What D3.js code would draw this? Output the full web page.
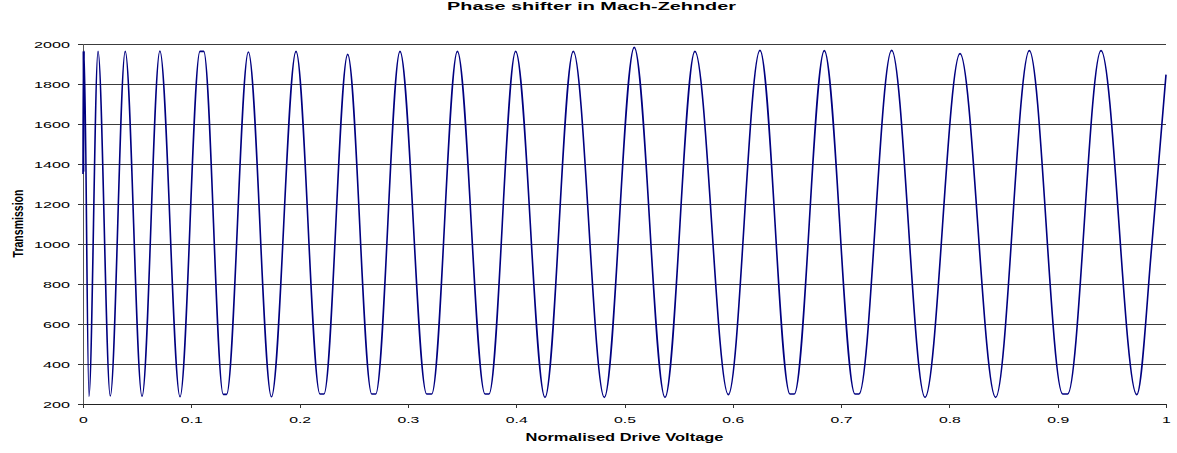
<!DOCTYPE html>
<html><head><meta charset="utf-8">
<script src="https://cdn.jsdelivr.net/npm/d3@7"></script>
<style>
html,body{margin:0;padding:0;background:#fff;}
svg{display:block;}
text{font-family:"Liberation Sans",Arial,sans-serif;fill:#000;}
</style>
</head><body>
<svg id="chart" width="1177" height="453"></svg>
<script>
const chartTitle = "Phase shifter in Mach-Zehnder";
const xTitle = "Normalised Drive Voltage";
const yTitle = "Transmission";

const voltage = [0, 0.0003, 0.0006, 0.0010, 0.0055, 0.0139, 0.0252, 0.0390, 0.0545, 0.0710,
  0.0896, 0.1080, 0.1115, 0.1295, 0.1326, 0.1527, 0.1740, 0.1967, 0.2188, 0.2225,
  0.2444, 0.2666, 0.2703, 0.2927, 0.3173, 0.3220, 0.3457, 0.3712, 0.3749, 0.3995,
  0.4266, 0.4527, 0.4814, 0.5090, 0.5374, 0.5650, 0.5959, 0.6251, 0.6528, 0.6568,
  0.6845, 0.7128, 0.7165, 0.7467, 0.7775, 0.8098, 0.8427, 0.8738, 0.9046, 0.9092,
  0.9400, 0.9730, 0.9870, 1.0000];
const transmission = [1350, 1965, 1360, 1965, 238, 1963, 240, 1963, 238, 1965,
  236, 1963, 1963, 248, 248, 1960, 236, 1963, 250, 250,
  1948, 250, 250, 1963, 250, 250, 1963, 250, 250, 1963,
  233, 1963, 233, 1983, 233, 1963, 247, 1968, 250, 250,
  1967, 250, 250, 1968, 233, 1952, 233, 1967, 250, 250,
  1967, 247, 1000, 1847];

const xTicks = [0, 0.1, 0.2, 0.3, 0.4, 0.5, 0.6, 0.7, 0.8, 0.9, 1];
const xTickLabels = ["0", "0.1", "0.2", "0.3", "0.4", "0.5", "0.6", "0.7", "0.8", "0.9", "1"];
const yTicks = [200, 400, 600, 800, 1000, 1200, 1400, 1600, 1800, 2000];
const yTickLabels = ["200", "400", "600", "800", "1000", "1200", "1400", "1600", "1800", "2000"];

const svg = d3.select("#chart");
svg.append("rect").attr("width", 1177).attr("height", 453).attr("fill", "#fff");

const x = d3.scaleLinear().domain([0, 1]).range([83, 1166]);
const y = d3.scaleLinear().domain([200, 2000]).range([404, 44]);

// gridlines
svg.append("g").selectAll("line").data(yTicks.filter(d => d !== 200)).join("line")
  .attr("x1", x(0)).attr("x2", x(1))
  .attr("y1", d => y(d)).attr("y2", d => y(d))
  .attr("stroke", "#3c3c3c").attr("stroke-width", 1).attr("shape-rendering", "crispEdges");

function stretch(sel, k) {
  sel.each(function () {
    const t = d3.select(this);
    const xx = +t.attr("x") || 0;
    t.attr("x", 0).attr("transform", `translate(${xx},0) scale(${k},1)`);
  });
}

// y axis
const yAxis = svg.append("g").attr("transform", `translate(${x(0)},0)`)
  .call(d3.axisLeft(y).tickValues(yTicks).tickFormat((d, i) => yTickLabels[i]).tickSize(5).tickPadding(8));
yAxis.select(".domain").attr("stroke", "#555").attr("shape-rendering", "crispEdges");
yAxis.selectAll(".tick line").attr("stroke", "#333").attr("shape-rendering", "crispEdges");
yAxis.selectAll("text").attr("font-size", 9.4).attr("font-family", '"Liberation Sans",Arial,sans-serif').attr("fill", "#000");
stretch(yAxis.selectAll("text"), 1.72);

// x axis
const xAxis = svg.append("g").attr("transform", `translate(0,${y(200)})`)
  .call(d3.axisBottom(x).tickValues(xTicks).tickFormat((d, i) => xTickLabels[i]).tickSize(4).tickPadding(8).tickSizeOuter(0));
xAxis.select(".domain").attr("stroke", "#222").attr("shape-rendering", "crispEdges");
xAxis.selectAll(".tick line").attr("stroke", "#333").attr("shape-rendering", "crispEdges");
xAxis.selectAll("text").attr("font-size", 9.4).attr("font-family", '"Liberation Sans",Arial,sans-serif').attr("fill", "#000");
stretch(xAxis.selectAll("text"), 1.68);

// data line
const pts = voltage.map((v, i) => [v, transmission[i]]);
svg.append("path").datum(pts)
  .attr("fill", "none").attr("stroke", "#000080").attr("stroke-width", 1.6)
  .attr("stroke-linejoin", "round")
  .attr("d", d3.line().x(d => x(d[0])).y(d => y(d[1])).curve(d3.curveMonotoneX));

function fitText(t, target, cx, cy, sy) {
  const w = t.node().getComputedTextLength();
  const k = target / w;
  t.attr("x", 0).attr("y", 0).attr("text-anchor", "middle")
    .attr("transform", `translate(${cx},${cy}) scale(${k},${sy || 1})`);
}

// title
const tt = svg.append("text").text(chartTitle).attr("font-size", 11.6).attr("font-weight", "bold");
fitText(tt, 289, 591.5, 9.5);

// x title
const xt = svg.append("text").text(xTitle).attr("font-size", 11.2).attr("font-weight", "bold");
fitText(xt, 198, 624.5, 440.7);

// y title (rotated)
const yt = svg.append("text").text(yTitle).attr("font-size", 10.5).attr("font-weight", "bold");
{
  const w = yt.node().getComputedTextLength();
  const k = 68 / w;
  yt.attr("x", 0).attr("y", 0).attr("text-anchor", "middle")
    .attr("transform", `translate(22.7,223.5) rotate(-90) scale(${k},1.46)`);
}
</script>
</body></html>
